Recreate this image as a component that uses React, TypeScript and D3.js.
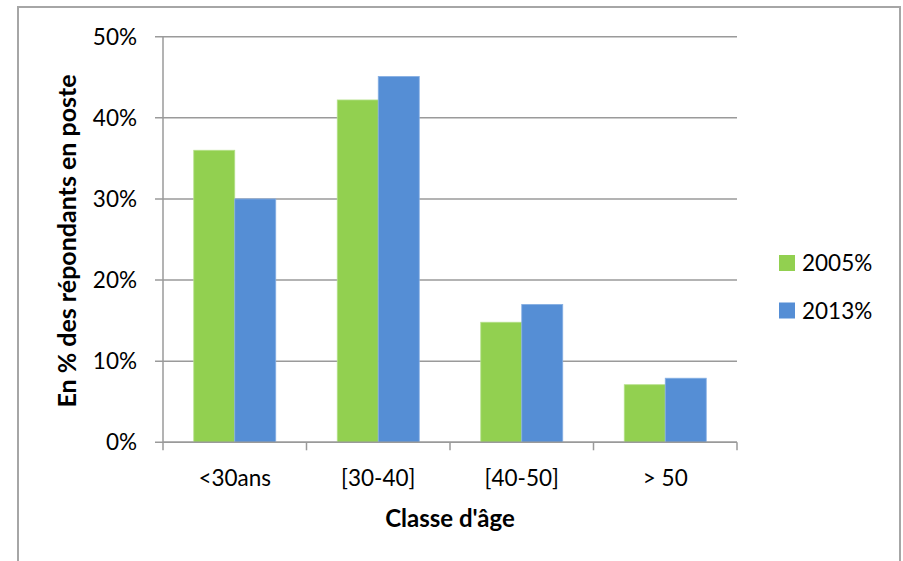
import React from "react";
import * as d3 from "d3";

const categories = ["<30ans", "[30-40]", "[40-50]", "> 50"];
const seriesNames = ["2005%", "2013%"];
const values2005 = [36.0, 42.2, 14.8, 7.1];
const values2013 = [30.0, 45.1, 17.0, 7.9];
const yTicks = [0, 10, 20, 30, 40, 50];
const colors = ["#92D050", "#558ED5"];

const W = 903;
const H = 561;
const margin = { left: 163, right: 737, top: 36.7, bottom: 442.3 };
const FONT = "Lato, 'Open Sans', sans-serif";
const FS = 22.5;
const FSB = 24;

export default function App() {
  const x = d3.scaleBand<string>().domain(categories).range([margin.left, margin.right]).paddingInner(0).paddingOuter(0);
  const y = d3.scaleLinear().domain([0, 50]).range([margin.bottom, margin.top]);
  const bw = x.bandwidth();
  const barW = bw * 0.2857;
  const series = [values2005, values2013];
  const grid = "#9a9a9a";

  return (
    <svg width={W} height={H} style={{ position: "absolute", left: 0, top: 0 }} fontFamily={FONT}>
      <rect x={0} y={0} width={W} height={H} fill="#fff" />
      <rect x={18} y={7} width={882} height={H + 10} fill="none" stroke="#a6a6a6" strokeWidth={2} />
      {yTicks.map((t) => (
        <g key={t}>
          <line x1={155} x2={margin.right} y1={y(t)} y2={y(t)} stroke={grid} strokeWidth={1.5} />
          <text x={137} y={y(t)} dy="0.36em" textAnchor="end" fontSize={FS} fill="#000">
            {t}%
          </text>
        </g>
      ))}
      {categories.map((c, i) =>
        series.map((s, j) => {
          const cx = (x(c) as number) + bw / 2;
          const bx = cx - barW + j * barW;
          return (
            <rect
              key={c + j}
              x={bx}
              y={y(s[i])}
              width={barW}
              height={y(0) - y(s[i])}
              fill={colors[j]}
              stroke={j === 0 ? "#b5e08a" : "#86afe3"}
              strokeWidth={0.8}
            />
          );
        })
      )}
      <line x1={margin.left} x2={margin.left} y1={margin.top} y2={margin.bottom} stroke={grid} strokeWidth={1.5} />
      <line x1={margin.left} x2={margin.right} y1={margin.bottom} y2={margin.bottom} stroke={grid} strokeWidth={1.5} />
      {[...categories.map((c) => x(c) as number), margin.right].map((px, i) => (
        <line key={i} x1={px} x2={px} y1={margin.bottom} y2={margin.bottom + 8} stroke={grid} strokeWidth={1.5} />
      ))}
      {categories.map((c) => (
        <text key={c} x={(x(c) as number) + bw / 2} y={486} textAnchor="middle" fontSize={FS} fill="#000">
          {c}
        </text>
      ))}
      <text x={450} y={527} textAnchor="middle" fontSize={FSB} fontWeight="bold" fill="#000">
        Classe d'âge
      </text>
      <text
        transform={`translate(76, 241) rotate(-90)`}
        textAnchor="middle"
        fontSize={25}
        fontWeight="bold"
        fill="#000"
      >
        En % des répondants en poste
      </text>
      {seriesNames.map((n, j) => (
        <g key={n}>
          <rect x={779} y={255 + j * 47.5} width={16} height={16} fill={colors[j]} />
          <text x={802} y={271 + j * 47.5} fontSize={FS} fill="#000">
            {n}
          </text>
        </g>
      ))}
    </svg>
  );
}
